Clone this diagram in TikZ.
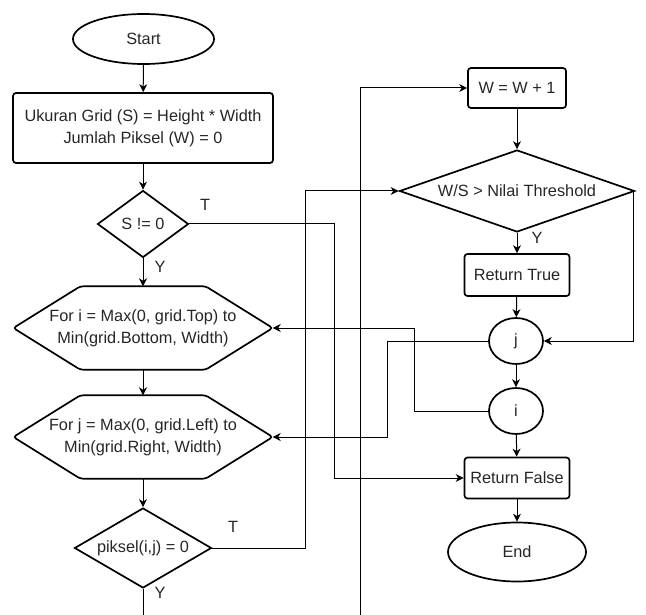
\documentclass[tikz,border=0pt]{standalone}
\usepackage{fontspec}
\setmainfont{Liberation Sans}
\usetikzlibrary{shapes.geometric,arrows.meta,calc}
\begin{document}
\begin{tikzpicture}[x=1pt,y=-1pt,
  every node/.style={font=\fontsize{16.3}{22}\selectfont, text=black!85},
  shp/.style={draw=black, line width=1.7pt, inner sep=0pt, align=center},
  termbox/.style={shp, ellipse},
  procbox/.style={shp, rectangle, rounded corners=3pt},
  decbox/.style={shp, diamond},
  hexbox/.style={inner sep=0pt, align=center, minimum width=259pt, minimum height=83pt},
  hexline/.style={line width=1.7pt, draw=black, rounded corners=3pt},
  conn/.style={line width=1pt, draw=black},
  arr/.style={conn, -{Stealth[length=8pt,width=8pt,inset=2.5pt]}},
  lbl/.style={inner sep=0pt}
]
\useasboundingbox (0,0) rectangle (646,615);

% left column
\node[termbox, minimum width=141pt, minimum height=50pt] (start) at (143.5,39) {Start};
\node[procbox, minimum width=260pt, minimum height=70pt] (init) at (143,128)
  {Ukuran Grid (S) = Height * Width\\Jumlah Piksel (W) = 0};
\node[decbox, aspect=1.36, minimum width=91pt, minimum height=67pt] (s) at (143,224) {S != 0};
\node[hexbox] (h1) at (143,328) {For i = Max(0, grid.Top) to\\Min(grid.Bottom, Width)};
\draw[hexline] (h1.west) -- ([xshift=67pt]h1.north west) -- ([xshift=-67pt]h1.north east)
  -- (h1.east) -- ([xshift=-67pt]h1.south east) -- ([xshift=67pt]h1.south west) -- cycle;
\node[hexbox] (h2) at (143,437) {For j = Max(0, grid.Left) to\\Min(grid.Right, Width)};
\draw[hexline] (h2.west) -- ([xshift=67pt]h2.north west) -- ([xshift=-67pt]h2.north east)
  -- (h2.east) -- ([xshift=-67pt]h2.south east) -- ([xshift=67pt]h2.south west) -- cycle;
\node[decbox, aspect=1.71, minimum width=137pt, minimum height=80pt] (p) at (143,548) {piksel(i,j) = 0};

% right column
\node[procbox, minimum width=98pt, minimum height=40pt] (w1) at (517,88) {W = W + 1};
\node[decbox, aspect=2.87, minimum width=235pt, minimum height=82pt] (ws) at (517,191) {W/S > Nilai Threshold};
\node[procbox, minimum width=105pt, minimum height=42pt] (rt) at (517,275) {Return True};
\node[termbox, minimum width=54pt, minimum height=46pt] (j) at (516,341) {j};
\node[termbox, minimum width=54pt, minimum height=46pt] (i) at (516,411) {i};
\node[procbox, minimum width=105pt, minimum height=41pt] (rf) at (517,478) {Return False};
\node[termbox, minimum width=138pt, minimum height=59pt] (end) at (517,552) {End};

\coordinate (pout) at (143,615);
\coordinate (win) at (360,615);

% connectors
\draw[arr] (start) -- (init);
\draw[arr] (init) -- (s);
\draw[arr] (s.south) -- (h1.north);
\draw[arr] (h1.south) -- (h2.north);
\draw[arr] (h2.south) -- (p.north);
\draw[conn] (p.south) -- (pout);
\draw[arr] (p.east) -- ++(93,0) |- (ws.west);
\draw[arr] (win) |- (w1.west);
\draw[arr] (w1) -- (ws);
\draw[arr] (ws.south) -- (rt.north);
\draw[arr] (rt) -- (j);
\draw[arr] ([xshift=-1.5pt]ws.east) |- (j.east);
\draw[arr] (j) -- (i);
\draw[arr] (j.west) -- ++(-101,0) |- (h2.east);
\draw[arr] (i.west) -- ++(-74,0) |- (h1.east);
\draw[arr] (s.east) -- ++(145,0) |- (rf.west);
\draw[arr] (i) -- (rf);
\draw[arr] (rf) -- (end);

% labels
\node[lbl] (lt1) at (205,205) {T};
\node[lbl] (ly1) at (160,267) {Y};
\node[lbl] (lt2) at (233,527) {T};
\node[lbl] (ly2) at (160,593) {Y};
\node[lbl] (ly3) at (537,238) {Y};
\end{tikzpicture}
\end{document}
